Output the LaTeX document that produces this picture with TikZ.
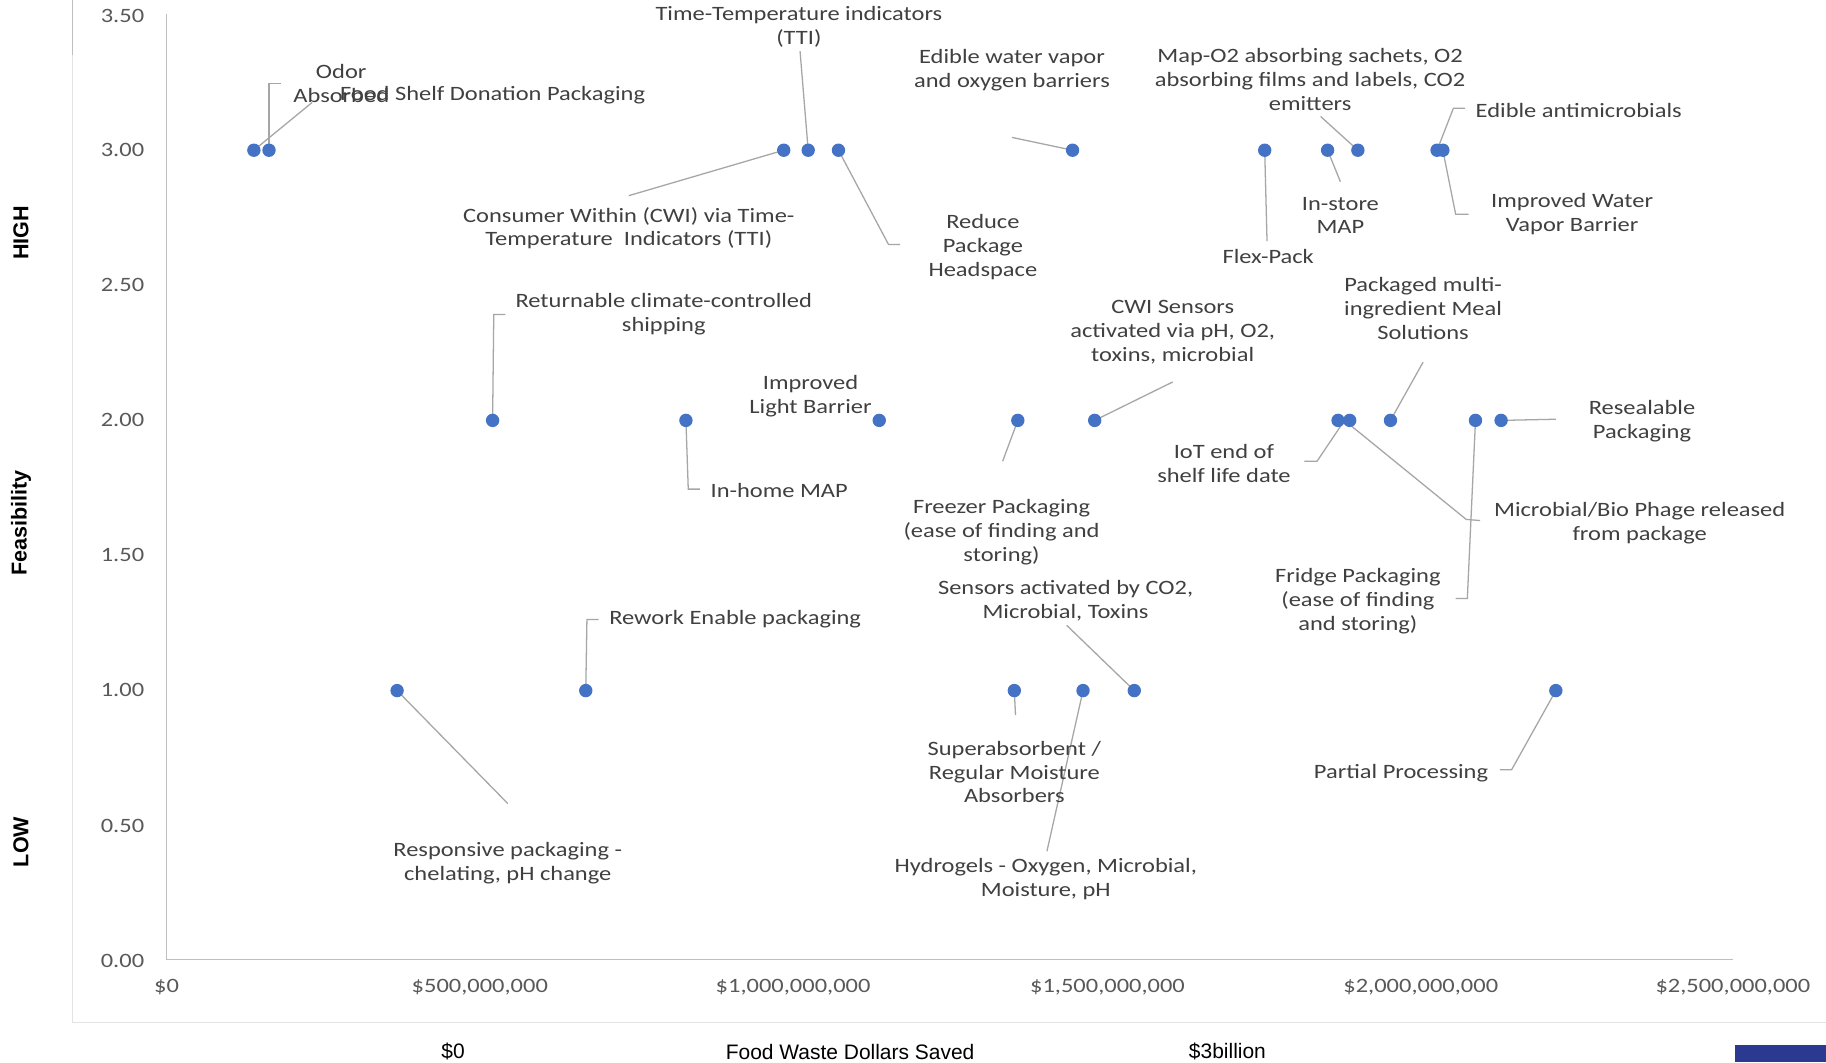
\documentclass[tikz,border=0pt]{standalone}
\usepackage{fontspec}
\setmainfont{Carlito}[FakeStretch=1.2]
\newfontfamily\arialf{Liberation Sans}
\usetikzlibrary{calc}
\definecolor{dotblue}{HTML}{4472C4}
\definecolor{lblgray}{HTML}{404040}
\definecolor{tickgray}{HTML}{595959}
\definecolor{leadgray}{HTML}{A6A6A6}
\definecolor{axisgray}{HTML}{BFBFBF}
\definecolor{framegray}{HTML}{E3E3E3}
\definecolor{navyband}{HTML}{2B3990}
\begin{document}
\begin{tikzpicture}[x=1pt,y=-1pt,
  dot/.style={circle,fill=dotblue,inner sep=0pt,minimum size=11.5pt},
  lbl/.style={font=\fontsize{17.5}{20.5}\selectfont,text=lblgray,align=center,inner sep=0pt,yshift=-2pt},
  lead/.style={draw=leadgray,line width=1.1pt},
  ticklbl/.style={font=\fontsize{17.5}{20.5}\selectfont,text=tickgray,inner sep=0pt,yshift=-1.5pt},
  axlbl/.style={font=\arialf\fontsize{18}{21}\selectfont,text=black,inner sep=0pt,yshift=-2pt},
  sidelbl/.style={font=\arialf\bfseries\fontsize{18.5}{21}\selectfont,text=black,inner sep=0pt,rotate=90}]
\useasboundingbox (0,0) rectangle (1568,912);
\fill[white] (0,0) rectangle (1568,912);
% chart frame
\draw[framegray,line width=1pt] (62,0) -- (62,878) -- (1568,878);
\draw[axisgray,line width=1.2pt] (62,0) -- (62,47);
% axes
\coordinate (ytop) at (143,12);
\coordinate (orig) at (143,824);
\coordinate (xend) at (1488,824);
\draw[axisgray,line width=1.2pt] (ytop) -- (orig) -- (xend);
% y tick labels
\foreach \v/\yy in {3.50/12,3.00/127,2.50/243,2.00/359,1.50/475,1.00/591,0.50/708,0.00/824}
  \node[ticklbl,anchor=east] (yt\yy) at (124,\yy) {\v};
% x tick labels
\node[ticklbl] (xt0) at (143,846) {\$0};
\node[ticklbl] (xt1) at (412,846) {\$500,000,000};
\node[ticklbl] (xt2) at (681,846) {\$1,000,000,000};
\node[ticklbl] (xt3) at (951,846) {\$1,500,000,000};
\node[ticklbl] (xt4) at (1220,846) {\$2,000,000,000};
\node[ticklbl] (xt5) at (1488,846) {\$2,500,000,000};
% side labels
\node[sidelbl] (high) at (18,200) {HIGH};
\node[sidelbl] (feas) at (18,449) {Feasibility};
\node[sidelbl] (low) at (18,723) {LOW};
% bottom labels
\node[axlbl] (b0) at (389,901) {\$0};
\node[axlbl] (bt) at (730,901) {Food Waste Dollars Saved};
\node[axlbl] (b3) at (1054,901) {\$3billion};
\fill[navyband] (1490,897) rectangle (1568,912);
% data points
\coordinate (p1) at (218,129);
\coordinate (p2) at (231,129);
\coordinate (p3) at (673,129);
\coordinate (p4) at (694,129);
\coordinate (p5) at (720,129);
\coordinate (p6) at (921,129);
\coordinate (p7) at (1086,129);
\coordinate (p8) at (1140,129);
\coordinate (p9) at (1166,129);
\coordinate (p10) at (1234,129);
\coordinate (p11) at (1239,129);
\coordinate (p12) at (423,361);
\coordinate (p13) at (589,361);
\coordinate (p14) at (755,361);
\coordinate (p15) at (874,361);
\coordinate (p16) at (940,361);
\coordinate (p17) at (1149,361);
\coordinate (p18) at (1159,361);
\coordinate (p19) at (1194,361);
\coordinate (p20) at (1267,361);
\coordinate (p21) at (1289,361);
\coordinate (p22) at (341,593);
\coordinate (p23) at (503,593);
\coordinate (p24) at (871,593);
\coordinate (p25) at (930,593);
\coordinate (p26) at (974,593);
\coordinate (p27) at (1336,593);
% leader lines
\coordinate (vtip) at ($(p17)!0.55!(p18)$);
\draw[lead] (p2) -- (231,72) -- (241,72);
\draw[lead] (p1) -- (268,88);
\draw[lead] (p3) -- (540,168);
\draw[lead] (p4) -- (687,44);
\draw[lead] (p5) -- (763,210) -- (773,210);
\draw[lead] (p6) -- (869,118);
\draw[lead] (p7) -- (1088,207);
\draw[lead] (p8) -- (1151,156);
\draw[lead] (p9) -- (1134,100);
\draw[lead] (p10) -- (1248,93) -- (1258,93);
\draw[lead] (p11) -- (1250,184) -- (1261,184);
\draw[lead] (p12) -- (424,270) -- (434,270);
\draw[lead] (p13) -- (591,420) -- (601,420);
\draw[lead] (p15) -- (861,396);
\draw[lead] (p16) -- (1007,328);
\draw[lead] (vtip) -- (1131,396) -- (1120,396);
\draw[lead] (vtip) -- (1259,446) -- (1271,447);
\draw[lead] (p19) -- (1222,311);
\draw[lead] (p20) -- (1260,514) -- (1250,514);
\draw[lead] (p21) -- (1336,360);
\draw[lead] (p22) -- (436,690);
\draw[lead] (p23) -- (504,532) -- (514,532);
\draw[lead] (p24) -- (872,614);
\draw[lead] (p25) -- (899,731);
\draw[lead] (p26) -- (916,537);
\draw[lead] (p27) -- (1298,661) -- (1288,661);
% dots
\foreach \i in {1,...,27} \node[dot] (d\i) at (p\i) {};
% labels
\node[lbl] (l1) at (293,70) {Odor\\Absorbed};
\node[lbl] (l2) at (423,80) {Food Shelf Donation Packaging};
\node[lbl] (l3) at (540,194) {Consumer Within (CWI) via Time-\\Temperature~ Indicators (TTI)};
\node[lbl] (l4) at (686,21) {Time-Temperature indicators\\(TTI)};
\node[lbl] (l5) at (844,210) {Reduce\\Package\\Headspace};
\node[lbl] (l6) at (869,58) {Edible water vapor\\and oxygen barriers};
\node[lbl] (l7) at (1089,218) {Flex-Pack};
\node[lbl] (l8) at (1151,183) {In-store\\MAP};
\node[lbl] (l9) at (1125,66) {Map-O2 absorbing sachets, O2\\absorbing films and labels, CO2\\emitters};
\node[lbl,anchor=west] (l10) at (1267,93) {Edible antimicrobials};
\node[lbl] (l11) at (1350,182) {Improved Water\\Vapor Barrier};
\node[lbl] (l12) at (570,268) {Returnable climate-controlled\\shipping};
\node[lbl,anchor=west] (l13) at (610,419) {In-home MAP};
\node[lbl] (l14) at (696,338) {Improved\\Light Barrier};
\node[lbl] (l15) at (860,455) {Freezer Packaging\\(ease of finding and\\storing)};
\node[lbl] (l16) at (1007,283) {CWI Sensors\\activated via pH, O2,\\toxins, microbial};
\node[lbl] (l17) at (1051,396) {IoT end of\\shelf life date};
\node[lbl] (l18) at (1408,447) {Microbial/Bio Phage released\\from package};
\node[lbl] (l19) at (1222,263) {Packaged multi-\\ingredient Meal\\Solutions};
\node[lbl] (l20) at (1166,514) {Fridge Packaging\\(ease of finding\\and storing)};
\node[lbl] (l21) at (1410,360) {Resealable\\Packaging};
\node[lbl] (l22) at (436,739) {Responsive packaging -\\chelating, pH change};
\node[lbl,anchor=west] (l23) at (523,530) {Rework Enable packaging};
\node[lbl] (l24) at (871,661) {Superabsorbent /\\Regular Moisture\\Absorbers};
\node[lbl] (l25) at (898,753) {Hydrogels - Oxygen, Microbial,\\Moisture, pH};
\node[lbl] (l26) at (915,514) {Sensors activated by CO2,\\Microbial, Toxins};
\node[lbl,anchor=east] (l27) at (1278,662) {Partial Processing};
\end{tikzpicture}
\end{document}
